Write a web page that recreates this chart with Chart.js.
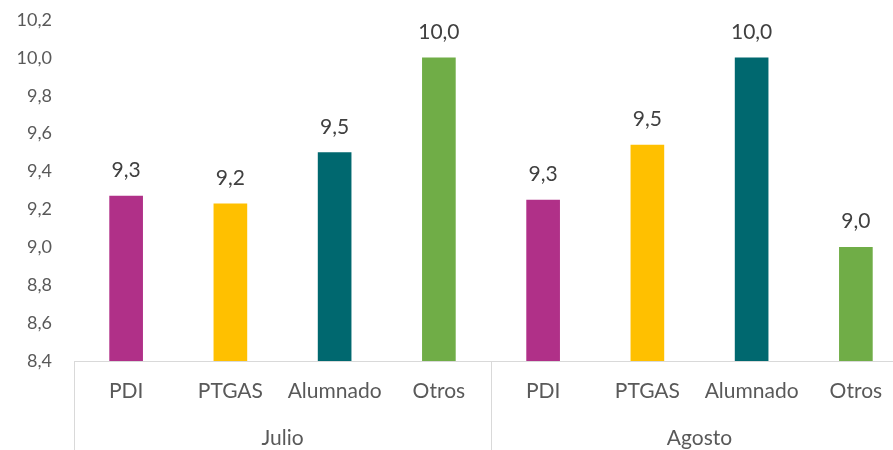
<!DOCTYPE html>
<html>
<head>
<meta charset="utf-8">
<script src="https://cdn.jsdelivr.net/npm/chart.js@4"></script>
<style>
    html, body { margin: 0; padding: 0; background: #fff; overflow: hidden; }
    #wrap { position: relative; width: 912px; height: 450px; }
</style>
</head>
<body>
<div id="wrap"><canvas id="chart"></canvas></div>
<script>
const categories = ["PDI", "PTGAS", "Alumnado", "Otros"];
const groups = ["Julio", "Agosto"];
const julioValues = [9.27, 9.23, 9.5, 10.0];
const agostoValues = [9.25, 9.54, 10.0, 9.0];
const barColors = ["#B03088", "#FFC000", "#00686F", "#70AD47"];
const yTicks = [8.4, 8.6, 8.8, 9.0, 9.2, 9.4, 9.6, 9.8, 10.0, 10.2];

const fontFamily = "Lato, 'Open Sans', sans-serif";

function formatComma(v) {
    return v.toFixed(1).replace(".", ",");
}

const labels = [];
const values = [];
const colors = [];
groups.forEach(function (g, gi) {
    const src = gi === 0 ? julioValues : agostoValues;
    categories.forEach(function (c, ci) {
        labels.push(c);
        values.push(src[ci]);
        colors.push(barColors[ci]);
    });
});

// value labels above bars
const valueLabels = {
    id: "valueLabels",
    afterDatasetsDraw(chart) {
        const ctx = chart.ctx;
        const meta = chart.getDatasetMeta(0);
        ctx.save();
        ctx.font = "21px " + fontFamily;
        ctx.fillStyle = "#404040";
        ctx.textAlign = "center";
        ctx.textBaseline = "alphabetic";
        meta.data.forEach(function (bar, i) {
            ctx.fillText(formatComma(values[i]), bar.x, bar.y - 19);
        });
        ctx.restore();
    }
};

// axis line and group separators
const groupLines = {
    id: "groupLines",
    afterDraw(chart) {
        const ctx = chart.ctx;
        const x = chart.scales.x;
        const area = chart.chartArea;
        const step = x.getPixelForValue(1) - x.getPixelForValue(0);
        ctx.save();
        ctx.strokeStyle = "#D9D9D9";
        ctx.lineWidth = 1;
        ctx.beginPath();
        ctx.moveTo(area.left, Math.round(area.bottom) + 0.5);
        ctx.lineTo(area.right, Math.round(area.bottom) + 0.5);
        for (let g = 0; g <= groups.length; g++) {
            const px = Math.round(x.getPixelForValue(g * categories.length) - step / 2) + 0.5;
            ctx.moveTo(px, area.bottom);
            ctx.lineTo(px, chart.height);
        }
        ctx.stroke();
        ctx.restore();
    }
};

new Chart(document.getElementById("chart"), {
    type: "bar",
    data: {
        labels: labels,
        datasets: [{
            data: values,
            backgroundColor: colors,
            barThickness: 33,
            borderWidth: 0
        }]
    },
    options: {
        responsive: true,
        maintainAspectRatio: false,
        animation: false,
        layout: { padding: { top: 20, right: 4, left: 0, bottom: 0 } },
        plugins: {
            legend: { display: false },
            tooltip: { enabled: false }
        },
        scales: {
            y: {
                min: 8.4,
                max: 10.2,
                afterFit: function (scale) {
                    scale.width = 74;
                    scale.paddingTop = 0;
                    scale.paddingBottom = 0;
                },
                afterBuildTicks: function (scale) {
                    scale.ticks = yTicks.map(function (v) { return { value: v }; });
                },
                grid: { display: false, drawTicks: false },
                border: { display: false },
                ticks: {
                    padding: 22,
                    color: "#595959",
                    font: { family: fontFamily, size: 18 },
                    callback: function (v) { return formatComma(v); }
                }
            },
            x: {
                grid: { display: false, drawTicks: false },
                border: { display: false },
                afterFit: function (scale) { scale.height = 50; },
                ticks: {
                    padding: 18,
                    color: "#595959",
                    maxRotation: 0,
                    autoSkip: false,
                    font: { family: fontFamily, size: 21 }
                }
            },
            x2: {
                type: "category",
                position: "bottom",
                labels: groups,
                offset: true,
                grid: { display: false, drawTicks: false },
                border: { display: false },
                afterFit: function (scale) { scale.height = 39; },
                ticks: {
                    padding: 15,
                    color: "#595959",
                    maxRotation: 0,
                    font: { family: fontFamily, size: 21 }
                }
            }
        }
    },
    plugins: [valueLabels, groupLines]
});
</script>
</body>
</html>
